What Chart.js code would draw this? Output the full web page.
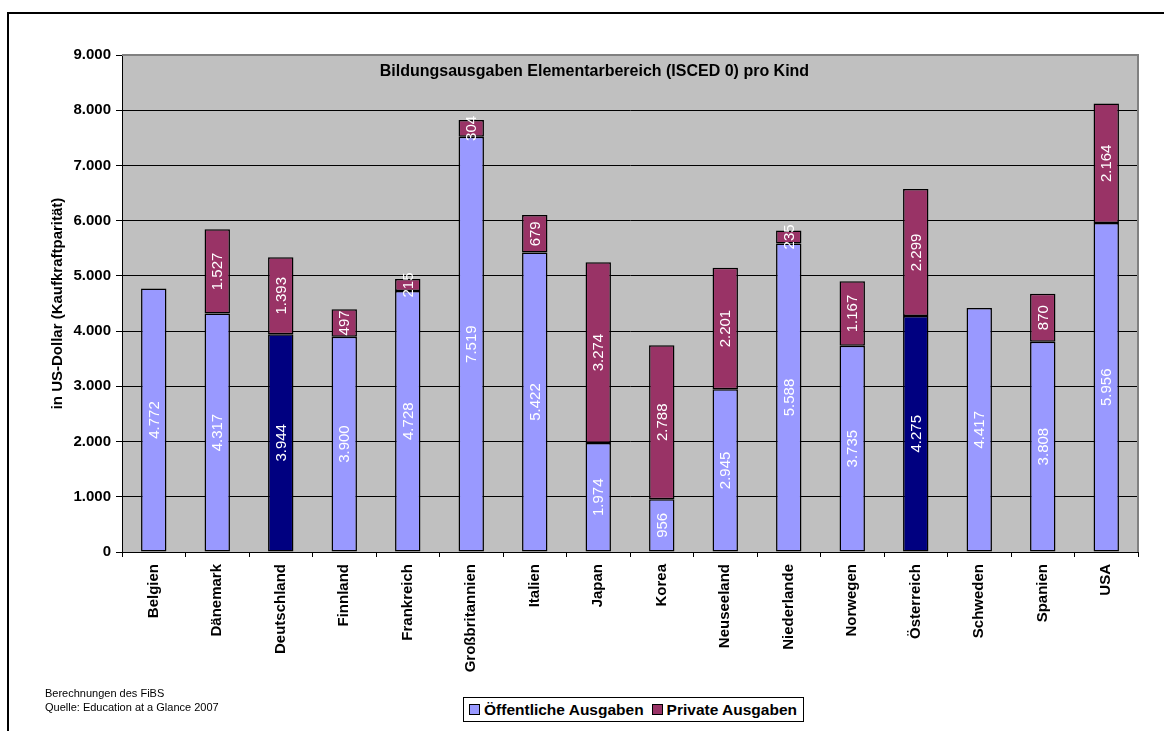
<!DOCTYPE html>
<html>
<head>
<meta charset="utf-8">
<script src="https://cdn.jsdelivr.net/npm/chart.js@4.4.1/dist/chart.umd.min.js"></script>
<style>
  html, body { margin: 0; padding: 0; background: #fff; }
  #wrap { position: relative; width: 1164px; height: 731px; overflow: hidden; font-family: Arial, "Liberation Sans", sans-serif; }
  #frame { position: absolute; left: 7px; top: 12px; width: 1300px; height: 900px; border: 2px solid #000; box-sizing: border-box; pointer-events: none; }
  canvas { position: absolute; left: 0; top: 0; }
  #note { position: absolute; left: 45px; top: 686px; font-size: 11px; line-height: 14px; color: #000; }
  #legend { position: absolute; left: 463px; top: 697px; height: 25px; border: 1px solid #000; box-sizing: border-box; background: #fff;
            display: flex; align-items: center; padding: 0 6px 0 5px; font-weight: bold; font-size: 15.5px; white-space: nowrap; }
  #legend .item { display: flex; align-items: center; margin-right: 8px; }
  #legend .item:last-child { margin-right: 0; }
  #legend .sw { width: 11px; height: 11px; border: 1px solid #000; margin-right: 4px; box-sizing: border-box; }
</style>
</head>
<body>
<div id="wrap">
  <canvas id="c" width="1164" height="731"></canvas>
  <div id="frame"></div>
  <div id="note">Berechnungen des FiBS<br>Quelle: Education at a Glance 2007</div>
  <div id="legend"></div>
</div>
<script>
// ---- data ----
const categories = ['Belgien','Dänemark','Deutschland','Finnland','Frankreich','Großbritannien','Italien','Japan','Korea','Neuseeland','Niederlande','Norwegen','Österreich','Schweden','Spanien','USA'];
const publicValues  = [4772, 4317, 3944, 3900, 4728, 7519, 5422, 1974, 956, 2945, 5588, 3735, 4275, 4417, 3808, 5956];
const privateValues = [null, 1527, 1393, 497, 215, 304, 679, 3274, 2788, 2201, 235, 1167, 2299, null, 870, 2164];
const highlighted = ['Deutschland', 'Österreich'];
const seriesNames = ['Öffentliche Ausgaben', 'Private Ausgaben'];
const chartTitle = 'Bildungsausgaben Elementarbereich (ISCED 0) pro Kind';
const yAxisTitle = 'in US-Dollar (Kaufkraftparität)';
const yMin = 0, yMax = 9000, yStep = 1000;

// ---- styles ----
const colPublic = '#9999FF', colPrivate = '#993366', colHighlight = '#000080';
const FONT = 'Arial, "Liberation Sans", sans-serif';

function fmt(v) {
  return String(Math.round(v)).replace(/\B(?=(\d{3})+(?!\d))/g, '.');
}

const bgPlugin = {
  id: 'plotBg',
  beforeDraw(chart) {
    const {ctx, chartArea: a} = chart;
    ctx.save();
    ctx.fillStyle = '#C0C0C0';
    ctx.fillRect(a.left, a.top, a.right - a.left, a.bottom - a.top);
    ctx.restore();
  },
  afterDraw(chart) {
    const {ctx, chartArea: a} = chart;
    ctx.save();
    ctx.strokeStyle = '#808080';
    ctx.lineWidth = 2;
    ctx.beginPath();
    ctx.moveTo(a.left, a.top);
    ctx.lineTo(a.right, a.top);
    ctx.lineTo(a.right, a.bottom);
    ctx.stroke();
    ctx.restore();
  }
};

const labelPlugin = {
  id: 'segLabels',
  afterDatasetsDraw(chart) {
    const ctx = chart.ctx;
    chart.data.datasets.forEach((ds, i) => {
      const meta = chart.getDatasetMeta(i);
      meta.data.forEach((bar, j) => {
        const v = ds.data[j];
        if (v === null || v === undefined) return;
        const p = bar.getProps(['x', 'y', 'base'], true);
        ctx.save();
        ctx.translate(p.x, (p.y + p.base) / 2);
        ctx.rotate(-Math.PI / 2);
        ctx.fillStyle = '#FFFFFF';
        ctx.font = '15px ' + FONT;
        ctx.textAlign = 'center';
        ctx.textBaseline = 'middle';
        ctx.fillText(fmt(v), 0, 1);
        ctx.restore();
      });
    });
  }
};

const titlePlugin = {
  id: 'innerTitle',
  afterDraw(chart) {
    const {ctx, chartArea: a} = chart;
    ctx.save();
    ctx.fillStyle = '#000';
    ctx.font = 'bold 16px ' + FONT;
    ctx.textAlign = 'center';
    ctx.textBaseline = 'middle';
    ctx.fillText(chartTitle, a.left + (a.right - a.left) * 0.465, a.top + 17);
    ctx.restore();
  }
};

const publicColors = categories.map(c => highlighted.includes(c) ? colHighlight : colPublic);

const chart = new Chart(document.getElementById('c'), {
  type: 'bar',
  data: {
    labels: categories,
    datasets: [
      { label: seriesNames[0], data: publicValues, backgroundColor: publicColors, legendColor: colPublic,
        borderColor: '#000', borderWidth: 1.5, borderSkipped: false },
      { label: seriesNames[1], data: privateValues, backgroundColor: colPrivate, legendColor: colPrivate,
        borderColor: '#000', borderWidth: 1.5, borderSkipped: false }
    ]
  },
  options: {
    responsive: false,
    devicePixelRatio: 1,
    animation: false,
    categoryPercentage: 1,
    barPercentage: 0.4,
    layout: { padding: { top: 55, right: 26, left: 0, bottom: 0 } },
    plugins: { legend: { display: false }, tooltip: { enabled: false }, title: { display: false } },
    scales: {
      x: {
        stacked: true,
        afterFit(s) { s.height = 179; },
        grid: { offset: true, drawOnChartArea: false, drawTicks: true, tickLength: 5, color: '#000', tickColor: '#000' },
        border: { color: '#000', width: 1 },
        ticks: { color: '#000', font: { family: FONT, size: 15, weight: 'bold' }, minRotation: 90, maxRotation: 90, padding: 7, autoSkip: false }
      },
      y: {
        stacked: true,
        min: yMin, max: yMax,
        afterFit(s) { s.width = 122; },
        grid: { color: '#000', lineWidth: 1, tickLength: 6, tickColor: '#000' },
        border: { color: '#000', width: 1 },
        ticks: { stepSize: yStep, color: '#000', padding: 5, font: { family: FONT, size: 15, weight: 'bold' }, callback: v => fmt(v) },
        title: { display: true, text: yAxisTitle, color: '#000', font: { family: FONT, size: 15, weight: 'bold' }, padding: { top: 49, bottom: 0 } }
      }
    }
  },
  plugins: [bgPlugin, labelPlugin, titlePlugin]
});

// legend built from datasets
const lg = document.getElementById('legend');
chart.data.datasets.forEach(ds => {
  const it = document.createElement('div');
  it.className = 'item';
  const sw = document.createElement('div');
  sw.className = 'sw';
  sw.style.background = ds.legendColor;
  const tx = document.createElement('span');
  tx.textContent = ds.label;
  it.appendChild(sw); it.appendChild(tx);
  lg.appendChild(it);
});
</script>
</body>
</html>
